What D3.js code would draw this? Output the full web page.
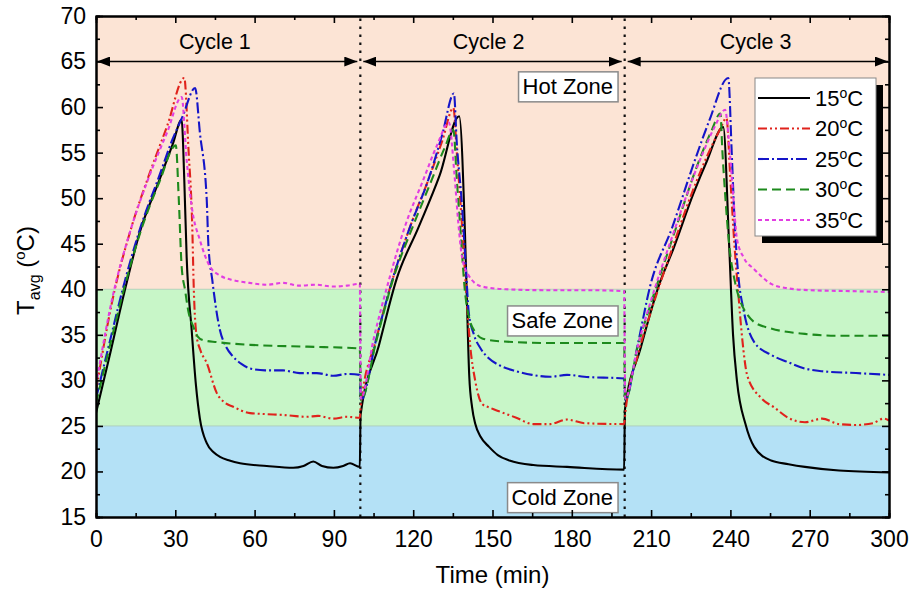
<!DOCTYPE html>
<html>
<head>
<meta charset="utf-8">
<script src="https://cdn.jsdelivr.net/npm/d3@7"></script>
<style>
  body { margin: 0; background: #fff; }
  svg { font-family: "Liberation Sans", Arial, sans-serif; }
</style>
</head>
<body>
<div id="content"></div>
<script>
// time (min), T_avg (oC)
var s15 = [[0,26.4],[5,32.5],[11,40],[16.6,46.3],[24,52],[29,55.9],[32.4,58.6],[33.4,52],[34.3,43.5],[36.2,35.5],[37.8,29.5],[39.3,25.8],[41.9,23.1],[44.5,22.1],[46.9,21.6],[50.5,21.2],[54.5,20.9],[64.6,20.6],[74.6,20.4],[78.5,20.6],[82.2,21.1],[85.5,20.6],[89.8,20.4],[93.5,20.6],[96.1,20.9],[99.8,20.5],
  [100.1,26.2],[107,33.8],[113.8,41.2],[122,46.8],[130,52.5],[137.4,59.0],[139.6,46],[140.3,39],[141.2,30.5],[142.3,27],[143.5,25.2],[145.5,23.8],[148.7,22.7],[152,21.8],[156.4,21.2],[165.4,20.7],[178.2,20.5],[199.8,20.2],
  [200.1,26.8],[206,33.5],[212.8,40.3],[218.5,44.5],[226,50.5],[231,54],[237.3,57.8],[239.5,45],[241,35],[242.5,29.9],[245.7,25.2],[249,22.7],[255.4,21.2],[262,20.8],[268.2,20.5],[281.1,20.1],[300,19.9]];
var s20 = [[0,28.8],[6,38.5],[13.5,46.9],[20,52.5],[27,58],[33.4,63.2],[35,55.3],[36.4,47],[37,40],[38,35],[39.5,33.3],[41.9,31.9],[45.7,28.6],[48.5,27.6],[51.9,27.1],[58.3,26.4],[64,26.3],[70.8,26.2],[79.7,26.0],[84,26.1],[89.8,25.8],[95,26.0],[99.8,25.9],
  [100.2,27.3],[106,34.5],[112.5,41.4],[119,47],[125.7,52],[131,56.3],[135.2,59.9],[136.5,55],[138,49],[140,40],[141.5,34],[143.5,29.9],[146.1,27.4],[149,27.0],[152.5,26.6],[159,25.9],[165.4,25.2],[171.8,25.2],[178.2,25.7],[184.7,25.3],[199.8,25.2],
  [200.2,26.3],[205,32.8],[210,37.6],[218,44.5],[226,51],[231,54.5],[236,57.5],[238.5,58.8],[240,52],[241.5,45],[243,39.5],[244.5,34.5],[246.4,30.5],[251.5,28.1],[256.7,27],[261.8,25.9],[268.2,25.4],[274.7,25.8],[281.1,25.2],[287.5,25.1],[293.9,25.3],[298,25.8],[300,25.6]];
var s25 = [[0,28],[5,34],[11,41],[16.5,46.5],[24,52.5],[29,56.5],[32.8,59],[37.5,62.1],[39.3,57.2],[41.9,49.8],[42.5,45],[44,41],[46.9,35.5],[49,33.8],[51.9,32.6],[55,31.8],[58.3,31.3],[64,31.1],[70.8,31.1],[77,30.8],[83.5,30.8],[89.8,30.5],[95,30.7],[99.8,30.6],
  [100.2,27.8],[106,34.5],[112.5,41.4],[119,47],[125.7,52],[131,57],[135.4,61.5],[136.5,56],[138.3,49.8],[140,42],[141,37.5],[143,35],[145.5,33.5],[148.7,32.4],[153,31.6],[159,31],[165,30.6],[171.8,30.4],[178.2,30.6],[184.7,30.4],[199.8,30.2],
  [200.2,27.8],[205,34],[209.6,40.3],[218,46.8],[226.6,54.2],[232,58.5],[239.2,63.2],[240.5,55],[241.5,48],[243,41.5],[245,37.7],[249,34.2],[255.4,32.8],[261.8,32],[268.2,31.3],[274.7,31],[287.5,30.8],[300,30.6]];
var s30 = [[0,27.5],[5,33.5],[11,40.5],[16.5,46],[24,51.8],[30.2,55.8],[31.3,50],[32.4,42.5],[33.7,39.9],[35,37.5],[36.8,35.9],[38.5,34.8],[40.6,34.4],[45.7,34.2],[58.3,33.9],[80,33.7],[99.8,33.5],
  [100.2,27.8],[106,34.3],[112.5,41.2],[120,47],[127,52],[132,55.6],[135.2,57.5],[136.5,52],[138,46],[139.5,40],[141.5,36.5],[143.5,35.3],[146.1,34.6],[152.5,34.3],[171.8,34.1],[199.8,34.1],
  [200.2,27.8],[205,33.8],[210,38.5],[218,45.5],[228,54],[233,57.5],[236.2,59.3],[237,55],[238,50.5],[239.5,45],[241.8,40.7],[244,38.5],[246.2,37.3],[249,36.4],[255.4,35.7],[268.2,35.1],[281.1,34.9],[300,34.9]];
var s35 = [[0,29.5],[6,38.8],[13.5,46.9],[20,52.3],[27,57.3],[32.4,61.1],[34.3,54.2],[36.2,49.1],[39.3,45.4],[43.1,42.5],[47,41.5],[51.9,41],[58,40.7],[64.6,40.5],[70.8,40.7],[77,40.4],[83,40.5],[89.8,40.3],[95,40.4],[99.8,40.6],
  [100.2,28],[105,34.5],[111.2,41.4],[117,47],[123.8,52],[129,55.8],[133.5,58.3],[135.5,53],[137,47.5],[138.5,43.5],[141,41.5],[146,40.3],[155,40],[170,39.9],[185,39.9],[199.8,39.8],
  [200.2,28],[205,33.8],[210,38.8],[218,45.8],[228.5,54.2],[234,57.8],[238,59.7],[239.5,56],[241,50.5],[242.5,45.5],[245,43.5],[249,42.2],[255.4,40.6],[261.8,40.1],[270,39.9],[285,39.8],[300,39.7]];

var seriesNames = ["15", "20", "25", "30", "35"];
var xTicks = [0, 30, 60, 90, 120, 150, 180, 210, 240, 270, 300];
var yTicks = [15, 20, 25, 30, 35, 40, 45, 50, 55, 60, 65, 70];
var cycleBounds = [0, 100, 200, 300];
var cycleNames = ["Cycle 1", "Cycle 2", "Cycle 3"];
var cycleLabelAt = [45, 148.5, 249.5];
var zoneNames = ["Hot Zone", "Safe Zone", "Cold Zone"];
var zoneLimits = [[40, 70], [25, 40], [15, 25]];
var zoneLabelAt = [62.3, 36.6, 17.2];

var svg = d3.select("#content").append("svg").attr("width", 914).attr("height", 590),
    margin = {top: 16, right: 25, bottom: 73, left: 96},
    width = 914 - margin.left - margin.right,
    height = 590 - margin.top - margin.bottom;

var x = d3.scaleLinear().domain([0, 300]).range([0, width]),
    y = d3.scaleLinear().domain([15, 70]).range([height, 0]);

var colors = ["#000000", "#e0231c", "#1515c8", "#1d8a1d", "#e23ee2"];
var dashes = ["none", "9,3,2,3,2,3", "11,3,2,3", "9,5", "4,3"];

var g = svg.append("g")
    .attr("transform", "translate(" + margin.left + "," + margin.top + ")");

svg.append("clipPath").attr("id", "plot-clip")
  .append("rect").attr("width", width).attr("height", height);

// background zones
var zoneFill = ["#fce4d5", "#c8f6c8", "#b4e1f6"];
g.selectAll(".zone")
    .data(zoneLimits)
    .enter().append("rect")
    .attr("class", "zone")
    .attr("x", 0)
    .attr("width", width)
    .attr("y", function(d) { return y(d[1]); })
    .attr("height", function(d) { return y(d[0]) - y(d[1]); })
    .attr("fill", function(d, i) { return zoneFill[i]; });

g.selectAll(".zone-edge")
    .data([40, 25])
    .enter().append("line")
    .attr("x1", 0).attr("x2", width)
    .attr("y1", function(d) { return y(d); })
    .attr("y2", function(d) { return y(d); })
    .attr("stroke", "#a9c9b4").attr("stroke-width", 0.8);

// cycle separators
g.selectAll(".sep")
    .data([100, 200])
    .enter().append("line")
    .attr("class", "sep")
    .attr("x1", function(d) { return x(d); })
    .attr("x2", function(d) { return x(d); })
    .attr("y1", y(15)).attr("y2", y(70))
    .attr("stroke", "#111")
    .attr("stroke-width", 2.2)
    .attr("stroke-dasharray", "2.5,5.5");

// curves
var line = d3.line()
    .x(function(d) { return x(d[0]); })
    .y(function(d) { return y(d[1]); })
    .curve(d3.curveMonotoneX);

var allSeries = [s15, s20, s25, s30, s35];
g.append("g").attr("clip-path", "url(#plot-clip)")
  .selectAll(".curve")
    .data(allSeries)
    .enter().append("path")
    .attr("class", "curve")
    .attr("d", line)
    .attr("fill", "none")
    .attr("stroke", function(d, i) { return colors[i]; })
    .attr("stroke-width", 2.1)
    .attr("stroke-dasharray", function(d, i) { return dashes[i]; });

// cycle arrows
var defs = svg.append("defs");
defs.append("marker")
    .attr("id", "arrow")
    .attr("markerUnits", "userSpaceOnUse")
    .attr("markerWidth", 14).attr("markerHeight", 10)
    .attr("refX", 13).attr("refY", 5)
    .attr("orient", "auto-start-reverse")
  .append("path")
    .attr("d", "M0,0 L13,5 L0,10 Z")
    .attr("fill", "#000");

var cycles = d3.range(3);
g.selectAll(".cyc-arrow")
    .data(cycles)
    .enter().append("line")
    .attr("class", "cyc-arrow")
    .attr("x1", function(i) { return x(cycleBounds[i]) + (i == 0 ? 1 : 3); })
    .attr("x2", function(i) { return x(cycleBounds[i + 1]) - (i == 2 ? 1 : 3); })
    .attr("y1", y(65)).attr("y2", y(65))
    .attr("stroke", "#000").attr("stroke-width", 1.6)
    .attr("marker-start", "url(#arrow)")
    .attr("marker-end", "url(#arrow)");

g.selectAll(".cyc-label")
    .data(cycles)
    .enter().append("text")
    .attr("class", "cyc-label")
    .attr("x", function(i) { return x(cycleLabelAt[i]); })
    .attr("y", y(65) - 13)
    .attr("text-anchor", "middle")
    .style("font-size", "21.5px")
    .text(function(i) { return cycleNames[i]; });

// zone labels
zoneNames.forEach(function(name, i) {
    var zg = g.append("g");
    var t = zg.append("text")
        .attr("x", x(197.5) - 5)
        .attr("y", y(zoneLabelAt[i]))
        .attr("dy", "0.35em")
        .attr("text-anchor", "end")
        .style("font-size", "22px")
        .text(name);
    var bb = t.node().getBBox();
    zg.insert("rect", "text")
        .attr("x", bb.x - 4).attr("y", bb.y - 2)
        .attr("width", bb.width + 9).attr("height", bb.height + 5)
        .attr("fill", "#fff")
        .attr("stroke", "#8a8a8a").attr("stroke-width", 1.5);
});

// axes
function styleAxis(sel) {
    sel.selectAll("path").attr("stroke", "#000").attr("stroke-width", 2);
    sel.selectAll("line").attr("stroke", "#000").attr("stroke-width", 1.6);
    sel.selectAll("text").style("font-size", "23px").attr("fill", "#000")
        .style("font-family", '"Liberation Sans", Arial, sans-serif');
}
var minorX = d3.range(15, 300, 30), minorY = d3.range(17.5, 70, 5);

g.append("g").attr("transform", "translate(0," + height + ")")
    .call(d3.axisBottom(x).tickValues(xTicks).tickSizeInner(-7).tickSizeOuter(0).tickPadding(14))
    .call(styleAxis);
g.append("g").attr("transform", "translate(0," + height + ")")
    .call(d3.axisBottom(x).tickValues(minorX).tickSize(-4).tickFormat(""))
    .call(styleAxis);
g.append("g")
    .call(d3.axisTop(x).tickValues(xTicks).tickSizeInner(-7).tickSizeOuter(0).tickFormat(""))
    .call(styleAxis);
g.append("g")
    .call(d3.axisTop(x).tickValues(minorX).tickSize(-4).tickFormat(""))
    .call(styleAxis);
g.append("g")
    .call(d3.axisLeft(y).tickValues(yTicks).tickSizeInner(-7).tickSizeOuter(0).tickPadding(10))
    .call(styleAxis);
g.append("g")
    .call(d3.axisLeft(y).tickValues(minorY).tickSize(-4).tickFormat(""))
    .call(styleAxis);
g.append("g").attr("transform", "translate(" + width + ",0)")
    .call(d3.axisRight(y).tickValues(yTicks).tickSizeInner(-7).tickSizeOuter(0).tickFormat(""))
    .call(styleAxis);
g.append("g").attr("transform", "translate(" + width + ",0)")
    .call(d3.axisRight(y).tickValues(minorY).tickSize(-4).tickFormat(""))
    .call(styleAxis);

// axis titles
g.append("text")
    .attr("x", x(150)).attr("y", height + 66)
    .attr("text-anchor", "middle")
    .style("font-size", "24px")
    .text("Time (min)");

var yl = g.append("text")
    .attr("transform", "translate(" + (-62) + "," + (y(42.5) + 4) + ") rotate(-90)")
    .attr("text-anchor", "middle")
    .style("font-size", "24px");
yl.append("tspan").text("T");
yl.append("tspan").attr("dy", 6).style("font-size", "16px").text("avg");
yl.append("tspan").attr("dy", -6).text(" (");
yl.append("tspan").attr("dy", -9).style("font-size", "15px").text("o");
yl.append("tspan").attr("dy", 9).text("C)");

// legend
var lg = g.append("g").attr("transform", "translate(" + (width - 134) + "," + 62 + ")");
lg.append("rect")
    .attr("x", 7).attr("y", 7).attr("width", 121).attr("height", 158)
    .attr("fill", "#000");
lg.append("rect")
    .attr("x", 0).attr("y", 0).attr("width", 121).attr("height", 158)
    .attr("fill", "#fff").attr("stroke", "#888").attr("stroke-width", 1);

var item = lg.selectAll(".legend")
    .data(seriesNames)
    .enter().append("g")
    .attr("class", "legend")
    .attr("transform", function(d, i) { return "translate(0," + (20 + i * 30.5) + ")"; });

item.append("line")
    .attr("x1", 3).attr("x2", 55)
    .attr("stroke", function(d, i) { return colors[i]; })
    .attr("stroke-width", 2.1)
    .attr("stroke-dasharray", function(d, i) { return dashes[i]; });

var lt = item.append("text")
    .attr("x", 60).attr("y", 0).attr("dy", "0.36em")
    .style("font-size", "22px");
lt.append("tspan").text(function(d) { return d; });
lt.append("tspan").attr("dy", -8).style("font-size", "14px").text("o");
lt.append("tspan").attr("dy", 8).text("C");
</script>
</body>
</html>
